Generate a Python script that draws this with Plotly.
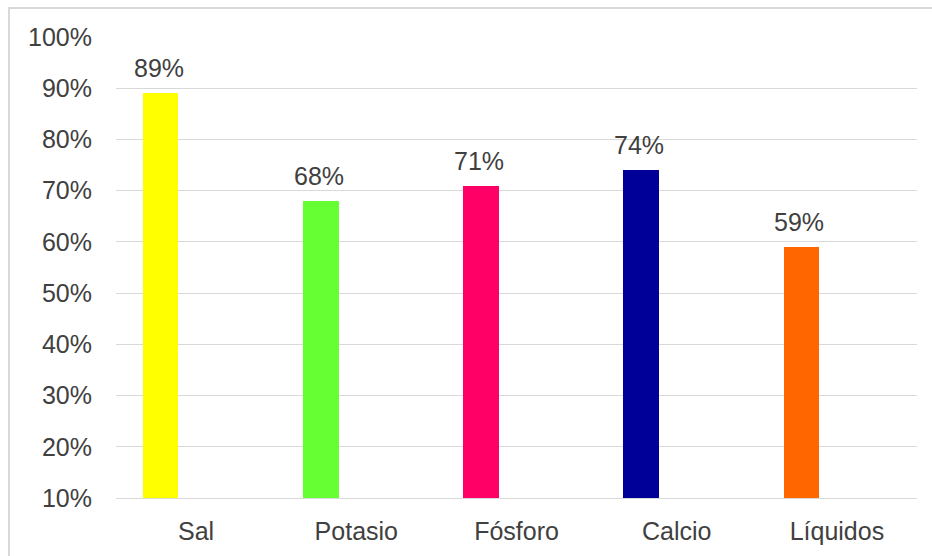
import plotly.graph_objects as go

categories = ["Sal", "Potasio", "Fósforo", "Calcio", "Líquidos"]
values = [0.89, 0.68, 0.71, 0.74, 0.59]
colors = ["#FFFF00", "#66FF33", "#FF0066", "#000099", "#FF6600"]
y_ticks = [0.1, 0.2, 0.3, 0.4, 0.5, 0.6, 0.7, 0.8, 0.9, 1.0]

W, H = 932, 556
ml, mr, mt, mb = 116, 15, 37, 58
pw, ph = W - ml - mr, H - mt - mb
cat_px = pw / len(categories)
bar_offset, bar_width = -1/3, 2/9

font = dict(family="Liberation Sans, Arial", size=25, color="#404040")

fig = go.Figure()
fig.add_trace(go.Bar(
    x=categories, y=values,
    marker=dict(color=colors, line=dict(width=0)),
    offset=bar_offset, width=bar_width,
    showlegend=False, hoverinfo="x+y",
))

annotations = [
    dict(x=c, y=v, xref="x", yref="y", text=f"{round(v*100)}%",
         showarrow=False, yanchor="bottom", xanchor="center",
         xshift=(bar_offset + bar_width / 2) * cat_px - 2, yshift=9,
         font=font)
    for c, v in zip(categories, values)
]

fig.update_layout(
    width=W, height=H,
    margin=dict(l=ml, r=mr, t=mt, b=mb, pad=0),
    paper_bgcolor="white", plot_bgcolor="white",
    font=font,
    bargap=0,
    annotations=annotations,
    xaxis=dict(showgrid=False, showline=True, linecolor="#d9d9d9", linewidth=1,
               ticks="", ticklabelstandoff=11, tickfont=font, zeroline=False),
    yaxis=dict(range=[0.1, 1.0], tickvals=y_ticks, tickformat=".0%",
               showgrid=True, gridcolor="#d9d9d9", gridwidth=1,
               showline=False, zeroline=False, ticks="",
               ticklabelstandoff=23, tickfont=font),
    shapes=[dict(type="rect", xref="paper", yref="paper",
                 x0=(9 - ml) / pw, x1=(W + 10 - ml) / pw,
                 y0=(H - mb - (H + 10)) / ph, y1=(H - mb - 8) / ph,
                 line=dict(color="#d9d9d9", width=2), layer="below")],
)

fig.write_html("out.html")
